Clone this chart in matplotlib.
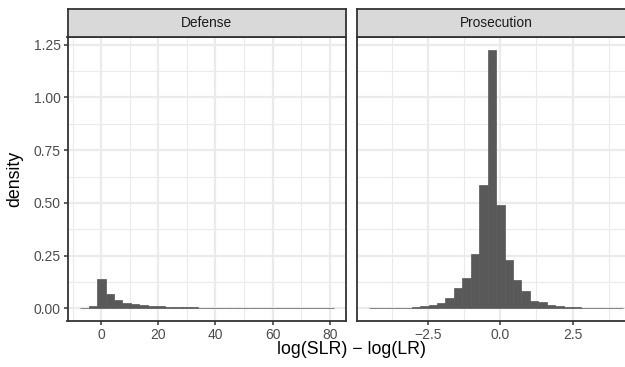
import numpy as np
import matplotlib
matplotlib.use('Agg')
import matplotlib.pyplot as plt

plt.rcParams['font.family'] = ['Liberation Sans', 'DejaVu Sans']

# histogram densities (30 bins per panel)
panels = ['Defense', 'Prosecution']

defense_width = 2.96        # bin width, bins centred on multiples of it
defense_first_bin = -2      # index of leftmost bin centre
defense_density = [0.002, 0.012, 0.140, 0.068, 0.040, 0.028, 0.021, 0.017,
                   0.012, 0.011, 0.007, 0.006, 0.005, 0.005,
                   0.0015, 0.0015, 0.0015, 0.0015, 0.0015, 0.0015, 0.0015, 0.0015,
                   0.0015, 0.0015, 0.0015, 0.0015, 0.0015, 0.0015, 0.0015, 0.0015]

prosecution_width = 0.292
prosecution_first_bin = -15
prosecution_density = [0.002, 0.002, 0.004, 0.004, 0.004, 0.006, 0.010, 0.016,
                       0.025, 0.051, 0.099, 0.146, 0.258, 0.585, 1.225, 0.490,
                       0.230, 0.135, 0.083, 0.035, 0.029, 0.017, 0.012, 0.007,
                       0.007, 0.003, 0.003, 0.003, 0.003, 0.003]

defense_xticks = [0, 20, 40, 60, 80]
defense_xminor = [-10, 10, 30, 50, 70]
prosecution_xticks = [-2.5, 0.0, 2.5]
prosecution_xminor = [-3.75, -1.25, 1.25, 3.75]
yticks = [0.0, 0.25, 0.5, 0.75, 1.0, 1.25]
yminor = [0.125, 0.375, 0.625, 0.875, 1.125]

W, H = 625, 367
fig = plt.figure(figsize=(W / 100, H / 100), dpi=100)

bar_col = '#595959'
border_col = '#333333'
grid_col = '#EBEBEB'
tick_txt = '#4D4D4D'

panel_top, panel_bot = 37, 321.4
panel_lefts = [67.5, 356.7]
panel_w = 278.8
strip_top = 8.7


def fx(px):
    return px / W


def fy(py):
    return 1 - py / H


ymax = max(max(defense_density), max(prosecution_density)) * 1.05
ymin = -ymax / 1.05 * 0.05

specs = [
    (defense_density, defense_width, defense_first_bin, defense_xticks, defense_xminor,
     ['0', '20', '40', '60', '80']),
    (prosecution_density, prosecution_width, prosecution_first_bin, prosecution_xticks,
     prosecution_xminor, ['\u22122.5', '0.0', '2.5']),
]

for i, (dens, w, k0, xt, xm, xtl) in enumerate(specs):
    left = panel_lefts[i]
    ax = fig.add_axes([fx(left), fy(panel_bot), panel_w / W, (panel_bot - panel_top) / H])
    centers = (np.arange(len(dens)) + k0) * w
    # thin edge so the near-zero bins still show as a line, like ggplot
    ax.bar(centers, dens, width=w, color=bar_col, edgecolor=bar_col,
           linewidth=0.5, zorder=3)
    lo = centers[0] - w / 2
    hi = centers[-1] + w / 2
    pad = (hi - lo) * 0.05
    ax.set_xlim(lo - pad, hi + pad)
    ax.set_ylim(ymin, ymax)
    for v in xm:
        ax.axvline(v, color=grid_col, lw=0.8, zorder=1)
    for v in yminor:
        ax.axhline(v, color=grid_col, lw=0.8, zorder=1)
    for v in xt:
        ax.axvline(v, color=grid_col, lw=1.6, zorder=1)
    for v in yticks:
        ax.axhline(v, color=grid_col, lw=1.6, zorder=1)
    ax.set_xticks(xt)
    ax.set_xticklabels(xtl)
    ax.tick_params(axis='x', colors=border_col, labelcolor=tick_txt, labelsize=10,
                   length=3.2, width=1.1, pad=1.2)
    if i == 0:
        ax.set_yticks(yticks)
        ax.set_yticklabels(['%.2f' % v for v in yticks])
        ax.tick_params(axis='y', colors=border_col, labelcolor=tick_txt, labelsize=10,
                       length=3.2, width=1.1, pad=1.5)
    else:
        ax.set_yticks([])
    for s in ax.spines.values():
        s.set_color(border_col)
        s.set_linewidth(1.3)
        s.set_zorder(5)

    # facet strip
    sax = fig.add_axes([fx(left), fy(panel_top), panel_w / W, (panel_top - strip_top) / H])
    sax.set_facecolor('#D9D9D9')
    sax.set_xticks([])
    sax.set_yticks([])
    for s in sax.spines.values():
        s.set_color(border_col)
        s.set_linewidth(1.3)
    sax.text(0.5, 0.5, panels[i], transform=sax.transAxes, ha='center', va='center',
             fontsize=9.9, color='#1A1A1A')

fig.text(fx((panel_lefts[0] + panel_lefts[1] + panel_w) / 2), fy(349),
         'log(SLR) \u2212 log(LR)', ha='center', va='center', fontsize=12.8)
fig.text(fx(15), fy((panel_top + panel_bot) / 2), 'density', rotation=90,
         ha='center', va='center', fontsize=12.8)

fig.savefig('out.png', dpi=100)
